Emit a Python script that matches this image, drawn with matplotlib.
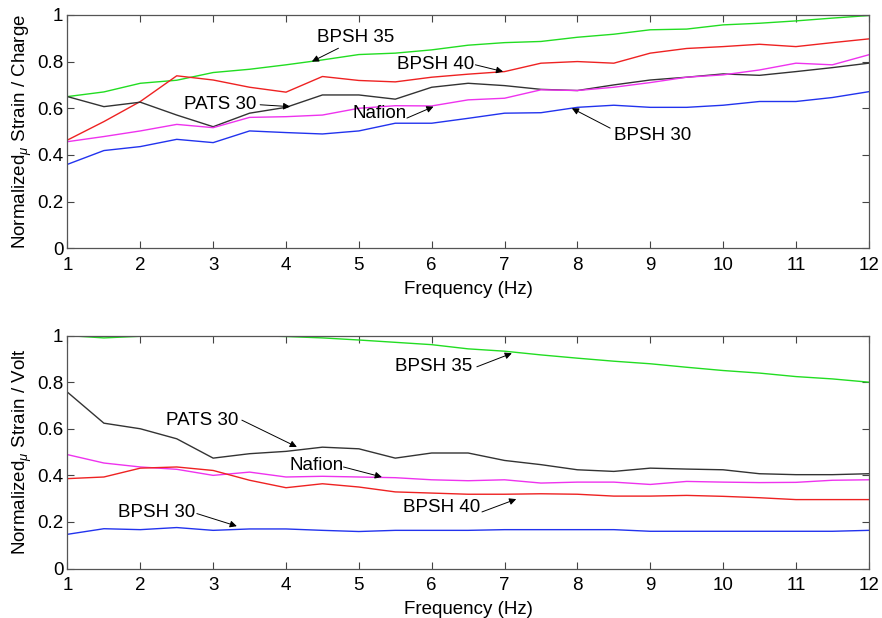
import matplotlib.pyplot as plt
import numpy as np

plt.rcParams['font.family'] = ['Liberation Sans', 'DejaVu Sans']
plt.rcParams['mathtext.fontset'] = 'custom'
plt.rcParams['mathtext.rm'] = 'Liberation Sans'
plt.rcParams['mathtext.it'] = 'Liberation Sans:italic'

# Frequency points (Hz)
freq = np.arange(1, 12.5, 0.5)

# Top panel: normalized micro strain / charge
top_bpsh35 = [0.65, 0.67, 0.707, 0.72, 0.753, 0.767, 0.786, 0.807, 0.83, 0.836, 0.85, 0.87,
              0.881, 0.886, 0.904, 0.917, 0.936, 0.939, 0.957, 0.964, 0.974, 0.986, 0.997]
top_bpsh40 = [0.464, 0.543, 0.629, 0.739, 0.721, 0.69, 0.669, 0.736, 0.719, 0.713, 0.733, 0.746,
              0.757, 0.793, 0.80, 0.793, 0.836, 0.856, 0.864, 0.874, 0.864, 0.881, 0.897]
top_pats30 = [0.65, 0.607, 0.626, 0.571, 0.521, 0.579, 0.604, 0.657, 0.657, 0.639, 0.69, 0.707,
              0.697, 0.681, 0.676, 0.70, 0.721, 0.733, 0.747, 0.741, 0.757, 0.774, 0.793]
top_nafion = [0.457, 0.479, 0.503, 0.531, 0.517, 0.561, 0.564, 0.571, 0.60, 0.611, 0.61, 0.636,
              0.643, 0.679, 0.676, 0.69, 0.71, 0.733, 0.743, 0.764, 0.793, 0.786, 0.829]
top_bpsh30 = [0.36, 0.419, 0.436, 0.467, 0.453, 0.503, 0.496, 0.49, 0.503, 0.536, 0.536, 0.557,
              0.579, 0.581, 0.604, 0.613, 0.604, 0.604, 0.613, 0.629, 0.629, 0.646, 0.671]

# Bottom panel: normalized micro strain / volt
bot_bpsh35 = [1.0, 0.99, 0.997, 1.0, 1.0, 1.0, 0.996, 0.99, 0.981, 0.971, 0.961, 0.943,
              0.933, 0.917, 0.903, 0.89, 0.879, 0.864, 0.85, 0.839, 0.824, 0.814, 0.80]
bot_pats30 = [0.757, 0.624, 0.60, 0.557, 0.474, 0.493, 0.503, 0.521, 0.514, 0.474, 0.496, 0.496,
              0.464, 0.446, 0.424, 0.417, 0.431, 0.427, 0.424, 0.407, 0.403, 0.403, 0.407]
bot_nafion = [0.489, 0.453, 0.436, 0.426, 0.40, 0.414, 0.393, 0.396, 0.393, 0.39, 0.381, 0.377,
              0.381, 0.367, 0.371, 0.371, 0.361, 0.374, 0.371, 0.369, 0.37, 0.379, 0.381]
bot_bpsh40 = [0.386, 0.393, 0.431, 0.436, 0.421, 0.379, 0.347, 0.364, 0.35, 0.329, 0.324, 0.319,
              0.319, 0.321, 0.319, 0.311, 0.311, 0.314, 0.31, 0.304, 0.296, 0.296, 0.296]
bot_bpsh30 = [0.147, 0.171, 0.167, 0.176, 0.164, 0.17, 0.17, 0.164, 0.159, 0.164, 0.164, 0.164,
              0.167, 0.167, 0.167, 0.167, 0.16, 0.16, 0.16, 0.16, 0.16, 0.16, 0.164]

# label text, text centre, arrow tail, arrow head (data coords)
top_labels = [
    ("BPSH 35", (4.96, 0.901), (4.72, 0.857), (4.355, 0.80)),
    ("BPSH 40", (6.05, 0.786), (6.60, 0.786), (6.98, 0.757)),
    ("PATS 30", (3.10, 0.617), (3.645, 0.615), (4.057, 0.607)),
    ("Nafion", (5.28, 0.579), (5.66, 0.558), (6.024, 0.607)),
    ("BPSH 30", (9.03, 0.482), (8.45, 0.515), (7.924, 0.60)),
]
bot_labels = [
    ("BPSH 35", (6.02, 0.869), (6.62, 0.866), (7.10, 0.924)),
    ("PATS 30", (2.845, 0.637), (3.394, 0.637), (4.149, 0.522)),
    ("Nafion", (4.414, 0.441), (4.789, 0.436), (5.316, 0.393)),
    ("BPSH 40", (6.14, 0.262), (6.69, 0.243), (7.16, 0.298)),
    ("BPSH 30", (2.23, 0.239), (2.776, 0.236), (3.325, 0.182)),
]

colors = {'green': '#22dd22', 'red': '#ee2222', 'black': '#333333',
          'magenta': '#ee33ee', 'blue': '#2233ee'}

fig = plt.figure(figsize=(8.82, 6.18), dpi=100)
ax1 = fig.add_axes([0.0765, 0.598, 0.9085, 0.378])
ax2 = fig.add_axes([0.0765, 0.080, 0.9085, 0.377])


def style_axes(ax, ylabel):
    ax.set_xlim(1, 12)
    ax.set_ylim(0, 1)
    ax.set_xticks(range(1, 13))
    ax.set_yticks([0, 0.2, 0.4, 0.6, 0.8, 1])
    ax.set_yticklabels(['0', '0.2', '0.4', '0.6', '0.8', '1'])
    ax.tick_params(direction='in', top=True, right=True, length=5, width=0.8,
                   labelsize=13.5, colors='#444444', labelcolor='black', pad=3)
    ax.tick_params(axis='x', pad=6)
    for s in ax.spines.values():
        s.set_color('#555555')
        s.set_linewidth(0.9)
    ax.set_xlabel('Frequency (Hz)', fontsize=13.5, labelpad=5)
    ax.set_ylabel(ylabel, fontsize=13.5, labelpad=2)


def add_labels(ax, labels):
    for text, pos, tail, head in labels:
        ax.text(pos[0], pos[1], text, fontsize=13.5, ha='center', va='center')
        ax.annotate('', xy=head, xytext=tail,
                    arrowprops=dict(arrowstyle='-|>', color='black', lw=0.7,
                                    mutation_scale=10, shrinkA=0, shrinkB=0))


ax1.plot(freq, top_bpsh35, color=colors['green'], lw=1)
ax1.plot(freq, top_bpsh40, color=colors['red'], lw=1)
ax1.plot(freq, top_pats30, color=colors['black'], lw=1)
ax1.plot(freq, top_nafion, color=colors['magenta'], lw=1)
ax1.plot(freq, top_bpsh30, color=colors['blue'], lw=1)
style_axes(ax1, r'Normalized$_{\mu}$ Strain / Charge')
add_labels(ax1, top_labels)

ax2.plot(freq, bot_bpsh35, color=colors['green'], lw=1)
ax2.plot(freq, bot_pats30, color=colors['black'], lw=1)
ax2.plot(freq, bot_nafion, color=colors['magenta'], lw=1)
ax2.plot(freq, bot_bpsh40, color=colors['red'], lw=1)
ax2.plot(freq, bot_bpsh30, color=colors['blue'], lw=1)
style_axes(ax2, r'Normalized$_{\mu}$ Strain / Volt')
add_labels(ax2, bot_labels)

fig.savefig('out.png', dpi=100)
